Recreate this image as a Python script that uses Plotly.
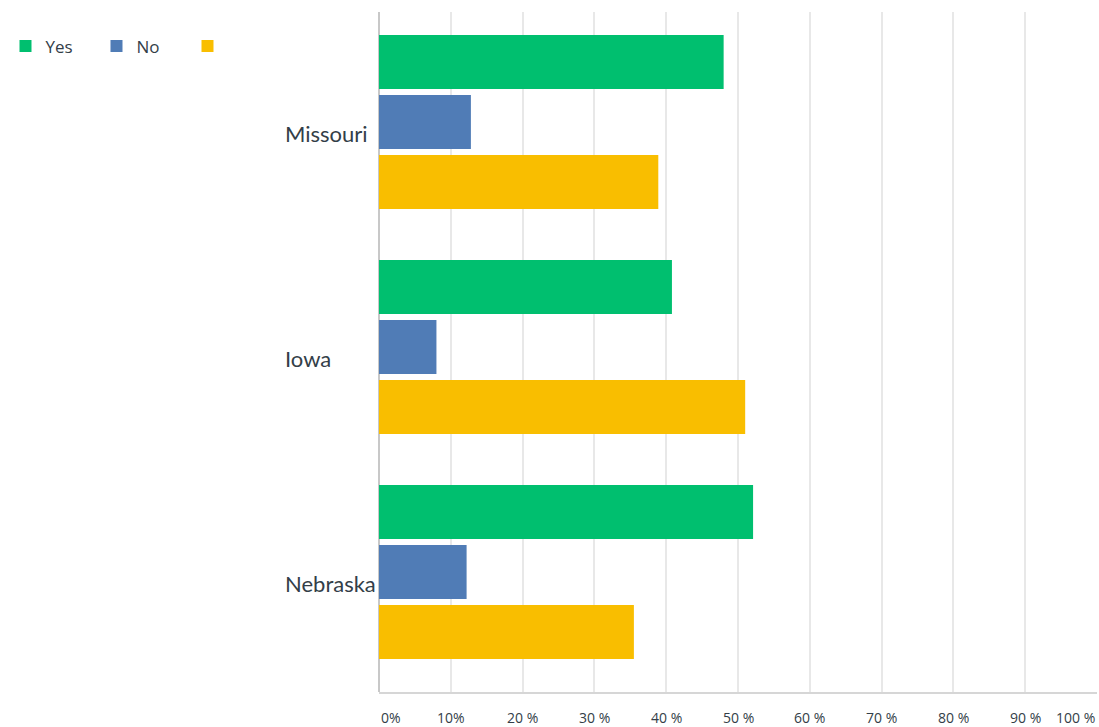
import plotly.graph_objects as go

states = ["Missouri", "Iowa", "Nebraska"]
series_names = ["Yes", "No", " "]
yes_vals = [48.0, 40.8, 52.1]
no_vals = [12.8, 8.0, 12.2]
other_vals = [38.9, 51.0, 35.5]
tick_vals = [0, 10, 20, 30, 40, 50, 60, 70, 80, 90, 100]
tick_text = ["0%", "10%", "20 %", "30 %", "40 %", "50 %", "60 %", "70 %", "80 %", "90 %", "100 %"]
colors = ["#00BF6F", "#507CB6", "#F9BE00"]

text_color = "#333E48"
font_family = "Open Sans, Noto Sans, sans-serif"
cat_font_family = "Lato, Open Sans, sans-serif"

W, H = 1099, 727
ML, MR, MT, MB = 0, 2, 12, 35
paper_w = W - ML - MR
plot_left_px = 379          # where the value axis starts
label_left_px = 284         # where the left-aligned category labels start

fig = go.Figure()
for name, vals, col in zip(series_names, [yes_vals, no_vals, other_vals], colors):
    fig.add_trace(go.Bar(
        y=states, x=vals, name=name, orientation="h",
        marker=dict(color=col, line=dict(width=0)),
        hoverinfo="x+y",
    ))

# x tick labels as annotations (end labels are pulled inside the plot edges)
annotations = []
for i, (v, t) in enumerate(zip(tick_vals, tick_text)):
    anchor = "center"
    if i == 0:
        anchor = "left"
    elif i == len(tick_vals) - 1:
        anchor = "right"
    annotations.append(dict(
        x=v, y=0, xref="x", yref="paper", text=t, showarrow=False,
        xanchor=anchor, yanchor="middle", yshift=-25,
        font=dict(family=font_family, size=14, color=text_color),
    ))

fig.update_layout(
    width=W, height=H,
    margin=dict(l=ML, r=MR, t=MT, b=MB, autoexpand=False),
    paper_bgcolor="white", plot_bgcolor="rgba(0,0,0,0)",
    barmode="group", bargap=0.2, bargroupgap=0.1,
    font=dict(family=font_family, color=text_color),
    showlegend=True,
    legend=dict(
        orientation="h", xref="container", yref="container",
        x=0.005, y=0.961, xanchor="left", yanchor="top",
        font=dict(size=17, color=text_color), entrywidth=46,
        traceorder="normal",
    ),
    annotations=annotations,
    xaxis=dict(
        domain=[(plot_left_px - ML) / paper_w, 1],
        range=[0, 100], tickvals=tick_vals, showticklabels=False,
        showgrid=True, gridcolor="#E8E8E8", gridwidth=1.5,
        zeroline=True, zerolinecolor="#C8C8C8", zerolinewidth=2,
        showline=True, linecolor="#D6D6D6", linewidth=1.5,
        mirror=False, fixedrange=True,
    ),
    yaxis=dict(
        categoryorder="array", categoryarray=states,
        range=[2.533, -0.489],
        anchor="free", side="right",
        position=(label_left_px - ML) / paper_w,
        showgrid=False, zeroline=False, showline=False,
        ticks="", ticklabelstandoff=0, ticklabelshift=-12,
        tickfont=dict(size=22, color=text_color, family=cat_font_family),
        fixedrange=True,
    ),
)

fig.write_html(
    "out.html",
    config={"displayModeBar": False},
    post_script="document.body.style.margin='0';document.body.style.overflow='hidden';",
)
